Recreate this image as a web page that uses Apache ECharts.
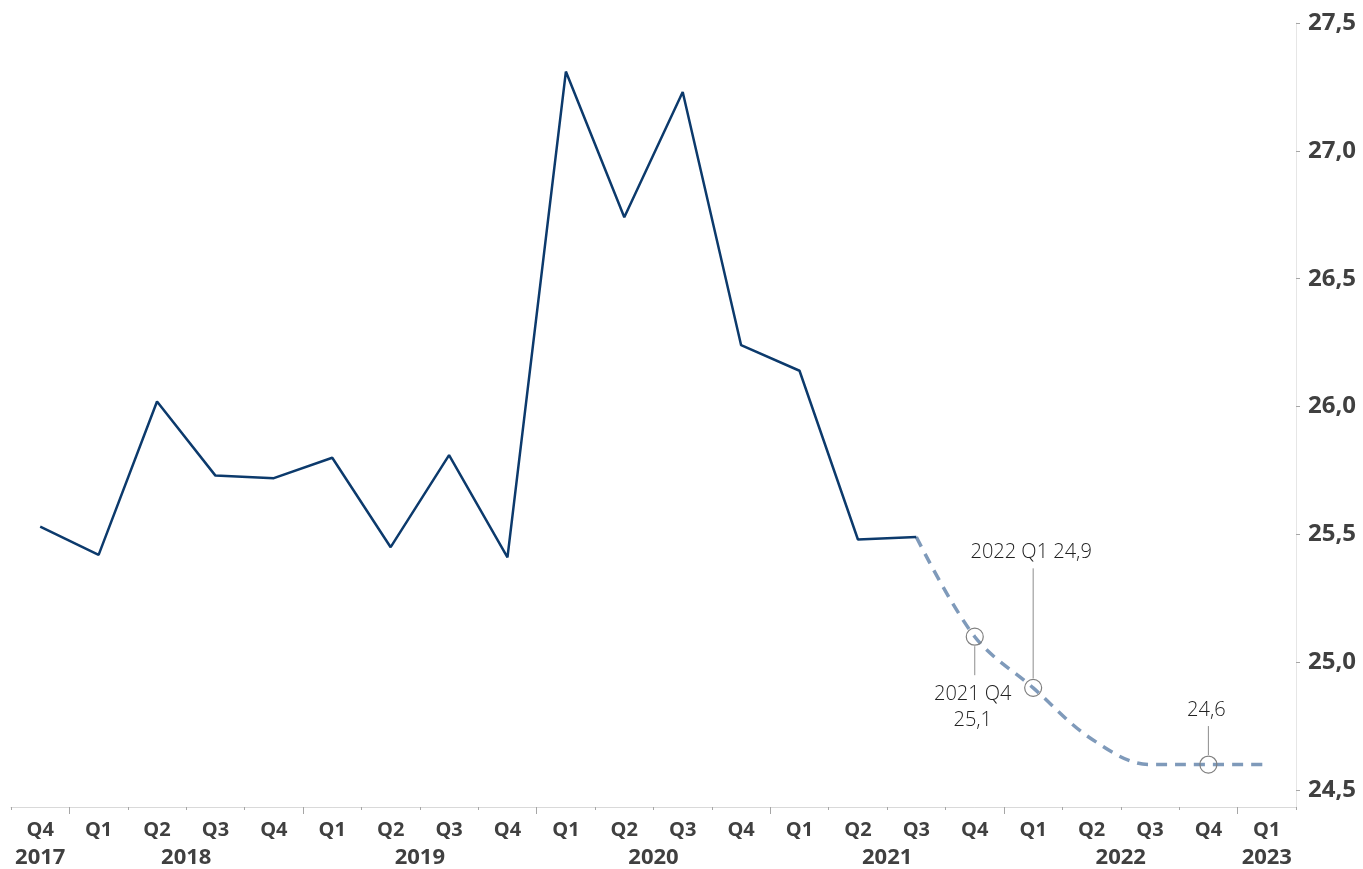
<!DOCTYPE html>
<html>
<head>
<meta charset="utf-8">
<script src="https://cdn.jsdelivr.net/npm/echarts@6/dist/echarts.min.js"></script>
<style>
html,body{margin:0;padding:0;background:#fff;}
#chart{width:1363px;height:869px;}
</style>
</head>
<body>
<div id="chart"></div>
<script>
// ---- data ----
const quarters = ['Q4','Q1','Q2','Q3','Q4','Q1','Q2','Q3','Q4','Q1','Q2','Q3','Q4','Q1','Q2','Q3','Q4','Q1','Q2','Q3','Q4','Q1'];
const years    = ['2017','2018','2018','2018','2018','2019','2019','2019','2019','2020','2020','2020','2020','2021','2021','2021','2021','2022','2022','2022','2022','2023'];
const actualValues   = [25.53,25.42,26.02,25.73,25.72,25.80,25.45,25.81,25.41,27.31,26.74,27.23,26.24,26.14,25.48,25.49];
const forecastStart  = 15; // forecast begins at Q3 2021
const forecastValues = [25.49,25.10,24.90,24.70,24.60,24.60,24.60];
const yTickValues = [24.5,25.0,25.5,26.0,26.5,27.0,27.5];
const annCategories = ['Q4 2021','Q1 2022','Q4 2022'];
const annValues     = [25.1,24.9,24.6];
const annTexts      = ['2021 Q4\n25,1','2022 Q1 24,9','24,6'];
const annDirections = ['down','up','up'];
const annLineLengths = [29,110,29];

// ---- derived ----
const categories = quarters.map((q,i)=>q+' '+years[i]);
const n = categories.length;
const actualSeries = categories.map((c,i)=> i < actualValues.length ? actualValues[i] : null);
const forecastSeries = categories.map((c,i)=> (i>=forecastStart && i-forecastStart<forecastValues.length) ? forecastValues[i-forecastStart] : null);

const yearGroups = [];
years.forEach((y,i)=>{
  const last = yearGroups[yearGroups.length-1];
  if (last && last.year===y) last.to=i; else yearGroups.push({year:y,from:i,to:i});
});
const yearCenters = yearGroups.map(g=>(g.from+g.to)/2);
const yearByCenter = {};
yearGroups.forEach(g=>{ yearByCenter[((g.from+g.to)/2).toFixed(2)] = g.year; });
const yearBoundaries = yearGroups.slice(1).map(g=>g.from-0.5);

const annData = annCategories.map((c,i)=>[categories.indexOf(c), annValues[i]]);

const textColor = '#404040';
const chart = echarts.init(document.getElementById('chart'));
chart.setOption({
  backgroundColor:'#fff',
  animation:false,
  grid:{left:11,right:67,top:23,bottom:61,containLabel:false},
  xAxis:[{
    type:'category',
    data:categories,
    boundaryGap:true,
    position:'bottom',
    axisLine:{show:true,lineStyle:{color:'#d9d9d9',width:1}},
    axisTick:{show:true,interval:0,length:3,lineStyle:{color:'#a6a6a6'}},
    axisLabel:{interval:0,margin:13,formatter:v=>v.split(' ')[0],
      fontFamily:'Open Sans',fontWeight:'bold',fontSize:20,color:textColor},
    splitLine:{show:false}
  },{
    type:'value',
    min:-0.5,
    max:n-0.5,
    position:'bottom',
    offset:0,
    axisLine:{show:false},
    axisTick:{show:true,customValues:yearBoundaries,length:7,lineStyle:{color:'#a6a6a6'}},
    axisLabel:{customValues:yearCenters,margin:40,
      formatter:v=>yearByCenter[Number(v).toFixed(2)]||'',
      fontFamily:'Open Sans',fontWeight:'bold',fontSize:22,color:textColor},
    splitLine:{show:false}
  }],
  yAxis:{
    type:'value',
    position:'right',
    min:24.434,
    max:27.5,
    axisLine:{show:true,onZero:false,lineStyle:{color:'#e6e6e6',width:1}},
    axisTick:{show:true,customValues:yTickValues,length:4,lineStyle:{color:'#a6a6a6'}},
    axisLabel:{customValues:yTickValues,margin:12,
      formatter:v=>Number(v).toFixed(1).replace('.',','),
      fontFamily:'Open Sans',fontWeight:'bold',fontSize:24,color:textColor},
    splitLine:{show:false}
  },
  series:[{
    type:'line',
    data:actualSeries,
    symbol:'none',
    lineStyle:{color:'#0c3a6c',width:2.5},
    z:3
  },{
    type:'line',
    data:forecastSeries,
    symbol:'none',
    smooth:0.35,
    lineStyle:{color:'#7f9aba',width:3.5,type:[11,8]},
    z:2
  },{
    type:'custom',
    data:annData,
    z:5,
    renderItem:(params,api)=>{
      const i = params.dataIndex;
      const p = api.coord([api.value(0),api.value(1)]);
      const r = 8.5;
      const dir = annDirections[i];
      const len = annLineLengths[i];
      let y1,y2,textY,vAlign;
      if (dir==='down'){ y1=p[1]+r+1; y2=y1+len; textY=y2+6; vAlign='top'; }
      else { y1=p[1]-r-1; y2=y1-len; textY=y2-3; vAlign='bottom'; }
      return {type:'group',children:[
        {type:'circle',shape:{cx:p[0],cy:p[1],r:r},style:{fill:'rgba(255,255,255,0)',stroke:'#7f7f7f',lineWidth:1.2}},
        {type:'line',shape:{x1:p[0],y1:y1,x2:p[0],y2:y2},style:{stroke:'#8c8c8c',lineWidth:1}},
        {type:'text',x:p[0]-2,y:textY,style:{text:annTexts[i],align:'center',verticalAlign:vAlign,
          fontFamily:'Open Sans',fontWeight:300,fontSize:20,lineHeight:26,fill:'#222222'}}
      ]};
    }
  }]
});
</script>
</body>
</html>
